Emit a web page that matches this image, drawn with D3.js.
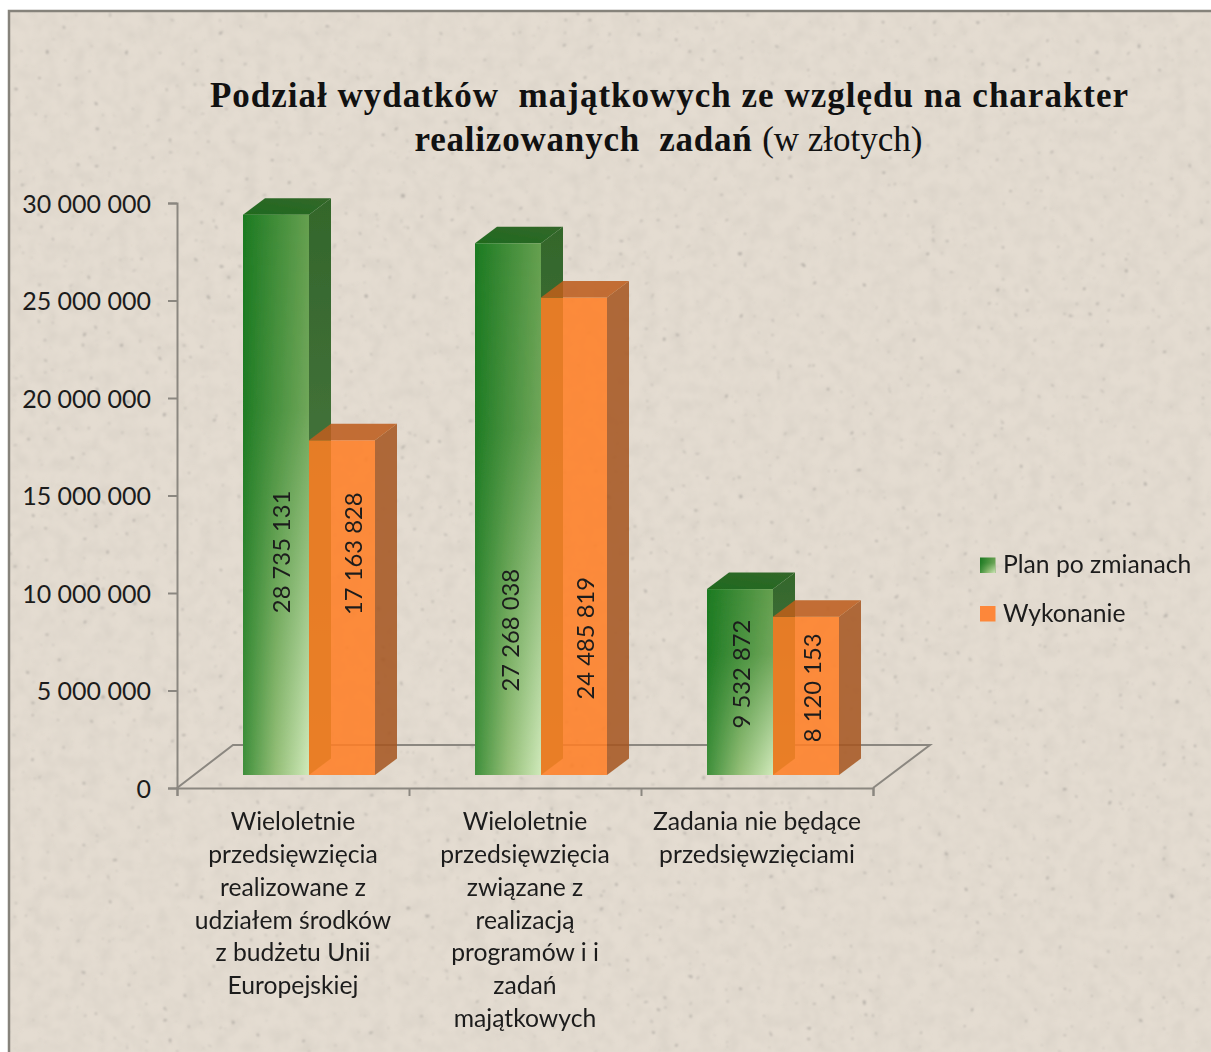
<!DOCTYPE html>
<html lang="pl">
<head>
<meta charset="utf-8">
<script src="https://cdn.jsdelivr.net/npm/d3@7"></script>
<style>
html,body{margin:0;padding:0;background:#fff}
svg{display:block}
.sans{font-family:Lato,"Open Sans",sans-serif;fill:#1c1c1c}
.title{font-family:"Liberation Serif",serif;fill:#111;white-space:pre}
</style>
</head>
<body>
<div id="chart"></div>
<script>
// ---- data ----
const categories = ["A", "B", "C"];
const categoryLabels = [
  ["Wieloletnie","przedsięwzięcia","realizowane z","udziałem środków","z budżetu Unii","Europejskiej"],
  ["Wieloletnie","przedsięwzięcia","związane z","realizacją","programów i i","zadań","majątkowych"],
  ["Zadania nie będące","przedsięwzięciami"]
];
const seriesNames = ["Plan po zmianach", "Wykonanie"];
const planValues = [28735131, 27268038, 9532872];
const wykonanieValues = [17163828, 24485819, 8120153];
const yTicks = [0, 5000000, 10000000, 15000000, 20000000, 25000000, 30000000];

// ---- layout ----
const W = 1211, H = 1052;
const axisX = 177, axisBase = 788, axisTop = 203;
const frontBase = 775, frontTop = 190;      // front plane of the 3D box
const depthX = 22, depthY = -16.5;
const floorDX = 56, floorDY = -43;
// hand placement of the value labels in the original (dx, dy from bar front centre)
const labelNudge = [[[5,57],[11,-54]],[[2,121],[11,102]],[[1,-8],[6,-8]]];

const svg = d3.select("#chart").append("svg").attr("width", W).attr("height", H);
const defs = svg.append("defs");

function grad(id, attrs, stops){
  const g = defs.append("linearGradient").attr("id", id);
  Object.entries(attrs).forEach(([k,v]) => g.attr(k,v));
  stops.forEach(([o,c,a]) => g.append("stop").attr("offset",o).attr("stop-color",c).attr("stop-opacity",a==null?1:a));
}
grad("greenBase",{x1:0,x2:1,y1:0,y2:0},[[0,"#1c7a22"],[1,"#66a050"]]);
grad("greenLight",{x1:0,x2:1,y1:0,y2:0},[[0,"#3f8f3b"],[0.5,"#95bf78"],[1,"#d0e9bb"]]);
grad("fadeV",{x1:0,x2:0,y1:0,y2:1},[[0,"#fff",0],[0.35,"#fff",0.1],[1,"#fff",1]]);
grad("greenSide",{x1:0,x2:0,y1:0,y2:1},[[0,"#33662b"],[1,"#567f4b"]]);
grad("greenTop",{x1:0,x2:1,y1:1,y2:0},[[0,"#1f6a1e"],[1,"#33662a"]]);
defs.append("mask").attr("id","fadeMask").attr("maskContentUnits","objectBoundingBox")
  .append("rect").attr("width",1).attr("height",1).attr("fill","url(#fadeV)");
defs.append("filter").attr("id","soft").append("feGaussianBlur").attr("stdDeviation",0.45);

// paper texture
const fMottle = defs.append("filter").attr("id","mottle").attr("x",0).attr("y",0).attr("width","100%").attr("height","100%");
fMottle.append("feTurbulence").attr("type","fractalNoise").attr("baseFrequency",0.07).attr("numOctaves",3).attr("seed",7);
fMottle.append("feColorMatrix").attr("type","matrix")
  .attr("values","0 0 0 0 0.68  0 0 0 0 0.63  0 0 0 0 0.56  0.9 0.9 0 0 -0.72");
fMottle.append("feGaussianBlur").attr("stdDeviation",1);
const fSpeck = defs.append("filter").attr("id","speck").attr("x",0).attr("y",0).attr("width","100%").attr("height","100%");
fSpeck.append("feTurbulence").attr("type","fractalNoise").attr("baseFrequency",0.16).attr("numOctaves",2).attr("seed",23);
fSpeck.append("feColorMatrix").attr("type","matrix")
  .attr("values","0 0 0 0 0.45  0 0 0 0 0.42  0 0 0 0 0.38  10 0 0 0 -7.5");
fSpeck.append("feGaussianBlur").attr("stdDeviation",0.9);

// paper
const frame = {x:9, y:11};
svg.append("rect").attr("x",frame.x).attr("y",frame.y).attr("width",W-frame.x).attr("height",H-frame.y).attr("fill","#e4dcd1");
svg.append("rect").attr("x",frame.x).attr("y",frame.y).attr("width",W-frame.x).attr("height",H-frame.y).attr("filter","url(#mottle)");
svg.append("rect").attr("x",frame.x).attr("y",frame.y).attr("width",W-frame.x).attr("height",H-frame.y).attr("filter","url(#speck)");
svg.append("path").attr("d",`M${frame.x},${H}V${frame.y}H${W}`).attr("fill","none").attr("stroke","#86837b").attr("stroke-width",2.5);

// title
svg.append("text").attr("class","title").attr("font-size",35).attr("x",669.5).attr("y",107)
  .attr("text-anchor","middle").attr("font-weight","bold").attr("letter-spacing",1.0)
  .text("Podział wydatków  majątkowych ze względu na charakter");
const t2 = svg.append("text").attr("class","title").attr("font-size",35).attr("x",668.5).attr("y",151).attr("text-anchor","middle");
t2.append("tspan").attr("font-weight","bold").attr("letter-spacing",0.8).text("realizowanych  zadań ");
t2.append("tspan").text("(w złotych)");

// scales
const yAxisScale = d3.scaleLinear().domain([0,30000000]).range([axisBase,axisTop]);
const yFront = d3.scaleLinear().domain([0,30000000]).range([frontBase,frontTop]);
const xCat = d3.scaleBand().domain(categories).range([axisX,873]);
const xTick = d3.scaleLinear().domain([0,3]).range([axisX,873]);
const xSer = d3.scaleBand().domain(seriesNames).range([66,198]);
const fmt = v => d3.format(",")(v).replace(/,/g," ");

// floor
svg.append("g").append("path")
  .attr("d", d3.line()([[axisX,axisBase],[axisX+floorDX,axisBase+floorDY],[930,axisBase+floorDY],[873,axisBase]]))
  .attr("fill","none").attr("stroke","#8b8780").attr("stroke-width",2);

// axes
const yG = svg.append("g").attr("transform",`translate(${axisX},0)`)
  .call(d3.axisLeft(yAxisScale).tickValues(yTicks).tickFormat(fmt).tickSize(9).tickPadding(17));
const xG = svg.append("g").attr("transform",`translate(0,${axisBase})`)
  .call(d3.axisBottom(xTick).ticks(3).tickFormat("").tickSize(8).tickSizeOuter(8));
[yG,xG].forEach(g=>{
  g.selectAll("path,line").attr("stroke","#8b8780").attr("stroke-width",2);
  g.select("path").attr("fill","none");
});
yG.selectAll("text").attr("class","sans").attr("font-size",25).attr("fill","#1c1c1c").attr("y",1);

// bars
const barsG = svg.append("g").attr("filter","url(#soft)");
const seriesVals = [planValues, wykonanieValues];
function box(cat, sIdx, v){
  const x0 = xCat(cat) + xSer(seriesNames[sIdx]), x1 = x0 + xSer.bandwidth();
  const yT = yFront(v), yB = yFront(0);
  return {x0,x1,yT,yB,
    side: [[x1,yT],[x1+depthX,yT+depthY],[x1+depthX,yB+depthY],[x1,yB]],
    top:  [[x0,yT],[x0+depthX,yT+depthY],[x1+depthX,yT+depthY],[x1,yT]]};
}
const poly = d3.line().curve(d3.curveLinearClosed);
categories.forEach((cat,i)=>{
  const b = box(cat,0,planValues[i]);
  barsG.append("path").attr("d",poly(b.side)).attr("fill","url(#greenSide)");
  barsG.append("path").attr("d",poly(b.top)).attr("fill","url(#greenTop)");
  barsG.append("rect").attr("x",b.x0).attr("y",b.yT).attr("width",b.x1-b.x0).attr("height",b.yB-b.yT).attr("fill","url(#greenBase)");
  barsG.append("rect").attr("x",b.x0).attr("y",b.yT).attr("width",b.x1-b.x0).attr("height",b.yB-b.yT).attr("fill","url(#greenLight)").attr("mask","url(#fadeMask)");
});
categories.forEach((cat,i)=>{
  // orange, translucent so the green side and the floor show through
  const b = box(cat,1,wykonanieValues[i]);
  barsG.append("rect").attr("x",b.x0).attr("y",b.yT).attr("width",b.x1-b.x0).attr("height",b.yB-b.yT).attr("fill","#ff7e24").attr("opacity",0.87);
  barsG.append("path").attr("d",poly(b.side)).attr("fill","#a5551c").attr("opacity",0.86);
  barsG.append("path").attr("d",poly(b.top)).attr("fill","#bd5f1c").attr("opacity",0.88);
});

// value labels
const labelsG = svg.append("g");
categories.forEach((cat,i)=>{
  seriesVals.forEach((vals,s)=>{
    const b = box(cat,s,vals[i]);
    const cx = (b.x0+b.x1)/2 + labelNudge[i][s][0];
    const cy = (b.yT+b.yB)/2 + labelNudge[i][s][1];
    labelsG.append("text").attr("class","sans").attr("font-size",23.8)
      .attr("text-anchor","middle").attr("dominant-baseline","central")
      .attr("transform",`translate(${cx},${cy}) rotate(-90)`)
      .text(fmt(vals[i]));
  });
});

// category labels
const catG = svg.append("g");
categories.forEach((cat,i)=>{
  const t = catG.append("text").attr("class","sans").attr("font-size",24.7).attr("text-anchor","middle");
  categoryLabels[i].forEach((line,k)=>{
    t.append("tspan").attr("x",xCat(cat)+xCat.bandwidth()/2).attr("y",830+k*32.85).text(line);
  });
});

// legend
const legendG = svg.append("g");
seriesNames.forEach((name,i)=>{
  const y = 565 + i*48.5;
  const sw = legendG.append("rect").attr("x",980).attr("y",y-7.5).attr("width",15.5).attr("height",15.5);
  if(i===0){
    sw.attr("fill","url(#greenBase)");
    legendG.append("rect").attr("x",980).attr("y",y-7.5).attr("width",15.5).attr("height",15.5).attr("fill","url(#greenLight)").attr("mask","url(#fadeMask)");
  } else sw.attr("fill","#fd873a");
  legendG.append("text").attr("class","sans").attr("font-size",24.7).attr("x",1003).attr("y",y+8).text(name);
});
</script>
</body>
</html>
